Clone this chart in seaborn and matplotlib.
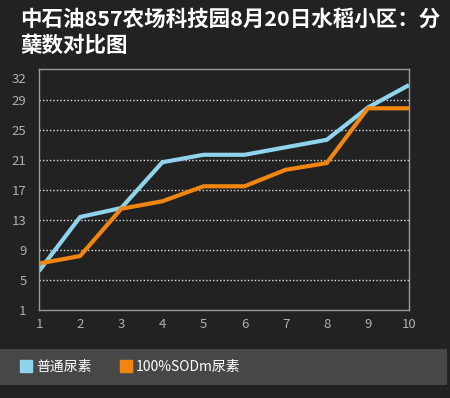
import matplotlib
matplotlib.use('Agg')

import matplotlib.pyplot as plt
from matplotlib.lines import Line2D
from matplotlib.patches import Rectangle
import pandas as pd
import seaborn as sns

# data
days = [1, 2, 3, 4, 5, 6, 7, 8, 9, 10]
putong = [6.2, 13.4, 14.6, 20.7, 21.7, 21.7, 22.7, 23.7, 28.0, 31.0]
sodm = [7.2, 8.2, 14.5, 15.5, 17.5, 17.5, 19.7, 20.6, 27.9, 27.9]
series_names = ["普通尿素", "100%SODm尿素"]
y_ticks = [1, 5, 9, 13, 17, 21, 25, 29, 32]
title = "中石油857农场科技园8月20日水稻小区：分\n蘖数对比图"

colors = ["#8fd3ec", "#f08510"]
bg = "#222222"

df = pd.DataFrame({
    "day": days * 2,
    "value": putong + sodm,
    "series": [series_names[0]] * len(days) + [series_names[1]] * len(days),
})

sns.set_style("dark")
plt.rcParams['font.family'] = ['Noto Sans CJK SC', 'DejaVu Sans']

fig = plt.figure(figsize=(4.5, 3.98), dpi=100, facecolor=bg)
ax = fig.add_axes([39 / 450, 1 - 310 / 398, 370 / 450, 240.7 / 398])
ax.set_facecolor(bg)

sns.lineplot(data=df, x="day", y="value", hue="series", palette=colors,
             linewidth=3, ax=ax, legend=False, solid_capstyle='butt')

ax.set_xlim(1, 10)
ax.set_ylim(1, 33.1)
ax.set_xticks(days)
ax.set_yticks(y_ticks)
ax.set_xlabel("")
ax.set_ylabel("")
ax.tick_params(axis='both', length=0, colors="#b0b0b0", labelsize=9.5)
ax.tick_params(axis='y', pad=9)
ax.tick_params(axis='x', pad=6)

# dotted grid only on inner ticks
ax.grid(True, axis='y', linestyle=(0, (1, 1.5)), color="#dddddd", linewidth=1)
ax.grid(False, axis='x')
glines = ax.get_ygridlines()
glines[0].set_visible(False)
glines[-1].set_visible(False)

for s in ax.spines.values():
    s.set_color("#9a9a9a")
    s.set_linewidth(1)

fig.text(20 / 450, 1 - 9 / 398, title, color="white", fontsize=15.5,
         fontweight='bold', va='top', ha='left', linespacing=1.3)

# legend band
fig.patches.append(Rectangle((0, 1 - 385 / 398), 447 / 450, 36 / 398,
                             transform=fig.transFigure, facecolor="#474747",
                             edgecolor='none', zorder=0))
handles = [Line2D([], [], marker='s', linestyle='none', markersize=8,
                  markerfacecolor=c, markeredgecolor=c) for c in colors]
leg = fig.legend(handles, series_names, loc='center left',
                 bbox_to_anchor=(7 / 450, 1 - 367 / 398), ncol=2,
                 frameon=False, fontsize=10, handletextpad=0.2,
                 columnspacing=2.0, handlelength=1.0)
for t in leg.get_texts():
    t.set_color("white")

fig.savefig("out.png", dpi=100, facecolor=bg)
